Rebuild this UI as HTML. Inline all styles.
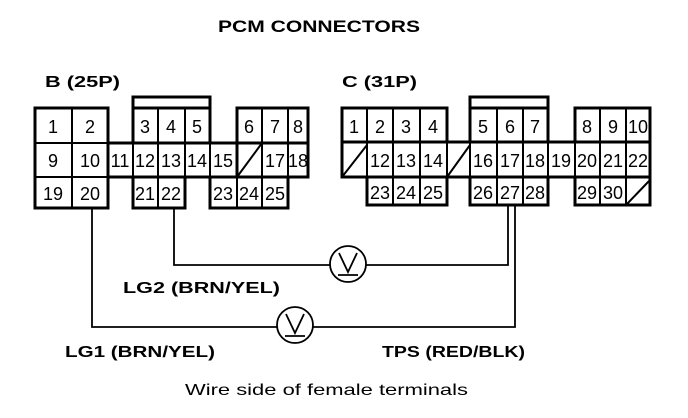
<!DOCTYPE html>
<html><head><meta charset="utf-8"><style>
html,body{margin:0;padding:0;background:#fff;width:688px;height:418px;overflow:hidden}
svg{display:block}
.b{font-family:"Liberation Sans",Arial,sans-serif;font-weight:bold;fill:#000}
.n{font-family:"Liberation Sans",Arial,sans-serif;fill:#000;font-size:16px}
.c{font-family:"Liberation Sans",Arial,sans-serif;fill:#000;font-size:18px;text-anchor:middle}
</style></head><body>
<svg width="688" height="418" viewBox="0 0 688 418" xmlns="http://www.w3.org/2000/svg">
<g stroke="#000" fill="none">
<g stroke-width="2">
<line x1="72" y1="108" x2="72" y2="208"/>
<line x1="158" y1="108" x2="158" y2="208"/>
<line x1="185" y1="108" x2="185" y2="177"/>
<line x1="133" y1="143" x2="133" y2="177"/>
<line x1="210" y1="143" x2="210" y2="177"/>
<line x1="262" y1="108" x2="262" y2="208"/>
<line x1="288" y1="108" x2="288" y2="177"/>
<line x1="237" y1="143" x2="237" y2="208"/>
<line x1="108" y1="143" x2="108" y2="177"/>
<line x1="35" y1="143" x2="308" y2="143"/>
<line x1="35" y1="177" x2="308" y2="177"/>
<line x1="237" y1="177" x2="262" y2="143"/>
</g>
<g stroke-width="3">
<rect x="35" y="108" width="73" height="100"/>
<rect x="133" y="108" width="77" height="35"/>
<rect x="237" y="108" width="71" height="69"/>
<rect x="108" y="143" width="200" height="34"/>
<rect x="133" y="177" width="52" height="31"/>
<rect x="210" y="177" width="78" height="31"/>
<polyline points="133,108 133,97 210,97 210,108"/>
</g>
<g stroke-width="2">
<line x1="367" y1="108" x2="367" y2="205"/>
<line x1="393" y1="108" x2="393" y2="205"/>
<line x1="420" y1="108" x2="420" y2="205"/>
<line x1="497" y1="108" x2="497" y2="205"/>
<line x1="523" y1="108" x2="523" y2="205"/>
<line x1="548" y1="108" x2="548" y2="205"/>
<line x1="600" y1="108" x2="600" y2="205"/>
<line x1="626" y1="108" x2="626" y2="205"/>
<line x1="447" y1="142" x2="447" y2="177"/>
<line x1="470" y1="142" x2="470" y2="177"/>
<line x1="575" y1="142" x2="575" y2="177"/>
<line x1="342" y1="142" x2="650" y2="142"/>
<line x1="342" y1="177" x2="650" y2="177"/>
<line x1="342" y1="177" x2="367" y2="145"/>
<line x1="447" y1="177" x2="470" y2="145"/>
<line x1="626" y1="205" x2="650" y2="180"/>
</g>
<g stroke-width="3">
<rect x="342" y="108" width="105" height="34"/>
<rect x="470" y="108" width="78" height="34"/>
<rect x="575" y="108" width="75" height="34"/>
<rect x="342" y="142" width="308" height="35"/>
<rect x="367" y="177" width="80" height="28"/>
<rect x="470" y="177" width="78" height="28"/>
<rect x="575" y="177" width="75" height="28"/>
<polyline points="470,108 470,97 548,97 548,108"/>
</g>
<g stroke-width="1.8">
<polyline points="92,208 92,327 277,327"/>
<polyline points="313,327 515,327 515,205"/>
<polyline points="174,208 174,265 330,265"/>
<polyline points="366,265 508,265 508,205"/>
<circle cx="295" cy="325" r="18"/>
<circle cx="348" cy="264" r="18"/>
<polyline points="286,314 295,333 304,314"/>
<line x1="285" y1="336" x2="305" y2="336"/>
<polyline points="339,253 348,272 357,253"/>
<line x1="338" y1="275" x2="358" y2="275"/>
</g>
</g>
<text class="b" x="218" y="32" font-size="17" textLength="202" lengthAdjust="spacingAndGlyphs">PCM CONNECTORS</text>
<text class="b" x="45" y="87" font-size="16" textLength="75" lengthAdjust="spacingAndGlyphs">B (25P)</text>
<text class="b" x="342" y="87" font-size="16" textLength="75" lengthAdjust="spacingAndGlyphs">C (31P)</text>
<text class="b" x="123" y="293" font-size="16" textLength="157" lengthAdjust="spacingAndGlyphs">LG2 (BRN/YEL)</text>
<text class="b" x="65" y="357" font-size="16" textLength="150" lengthAdjust="spacingAndGlyphs">LG1 (BRN/YEL)</text>
<text class="b" x="382" y="357" font-size="16" textLength="143" lengthAdjust="spacingAndGlyphs">TPS (RED/BLK)</text>
<text class="n" x="185" y="395" font-size="17" textLength="283" lengthAdjust="spacingAndGlyphs">Wire side of female terminals</text>
<g class="c">
<text x="53" y="133">1</text><text x="90" y="133">2</text>
<text x="145" y="133">3</text><text x="171" y="133">4</text><text x="197" y="133">5</text>
<text x="249" y="133">6</text><text x="275" y="133">7</text><text x="298" y="133">8</text>
<text x="53" y="167">9</text><text x="90" y="167">10</text><text x="120" y="167">11</text>
<text x="145" y="167">12</text><text x="171" y="167">13</text><text x="197" y="167">14</text>
<text x="223" y="167">15</text><text x="275" y="167">17</text><text x="298" y="167">18</text>
<text x="53" y="200">19</text><text x="90" y="200">20</text>
<text x="145" y="200">21</text><text x="171" y="200">22</text>
<text x="223" y="200">23</text><text x="249" y="200">24</text><text x="275" y="200">25</text>
<text x="354" y="133">1</text><text x="380" y="133">2</text><text x="406" y="133">3</text><text x="433" y="133">4</text>
<text x="483" y="133">5</text><text x="510" y="133">6</text><text x="535" y="133">7</text>
<text x="587" y="133">8</text><text x="613" y="133">9</text><text x="638" y="133">10</text>
<text x="380" y="167">12</text><text x="406" y="167">13</text><text x="433" y="167">14</text>
<text x="483" y="167">16</text><text x="510" y="167">17</text><text x="535" y="167">18</text>
<text x="561" y="167">19</text><text x="587" y="167">20</text><text x="613" y="167">21</text><text x="638" y="167">22</text>
<text x="380" y="199">23</text><text x="406" y="199">24</text><text x="433" y="199">25</text>
<text x="483" y="199">26</text><text x="510" y="199">27</text><text x="535" y="199">28</text>
<text x="587" y="199">29</text><text x="613" y="199">30</text>
</g>
</svg>
</body></html>
